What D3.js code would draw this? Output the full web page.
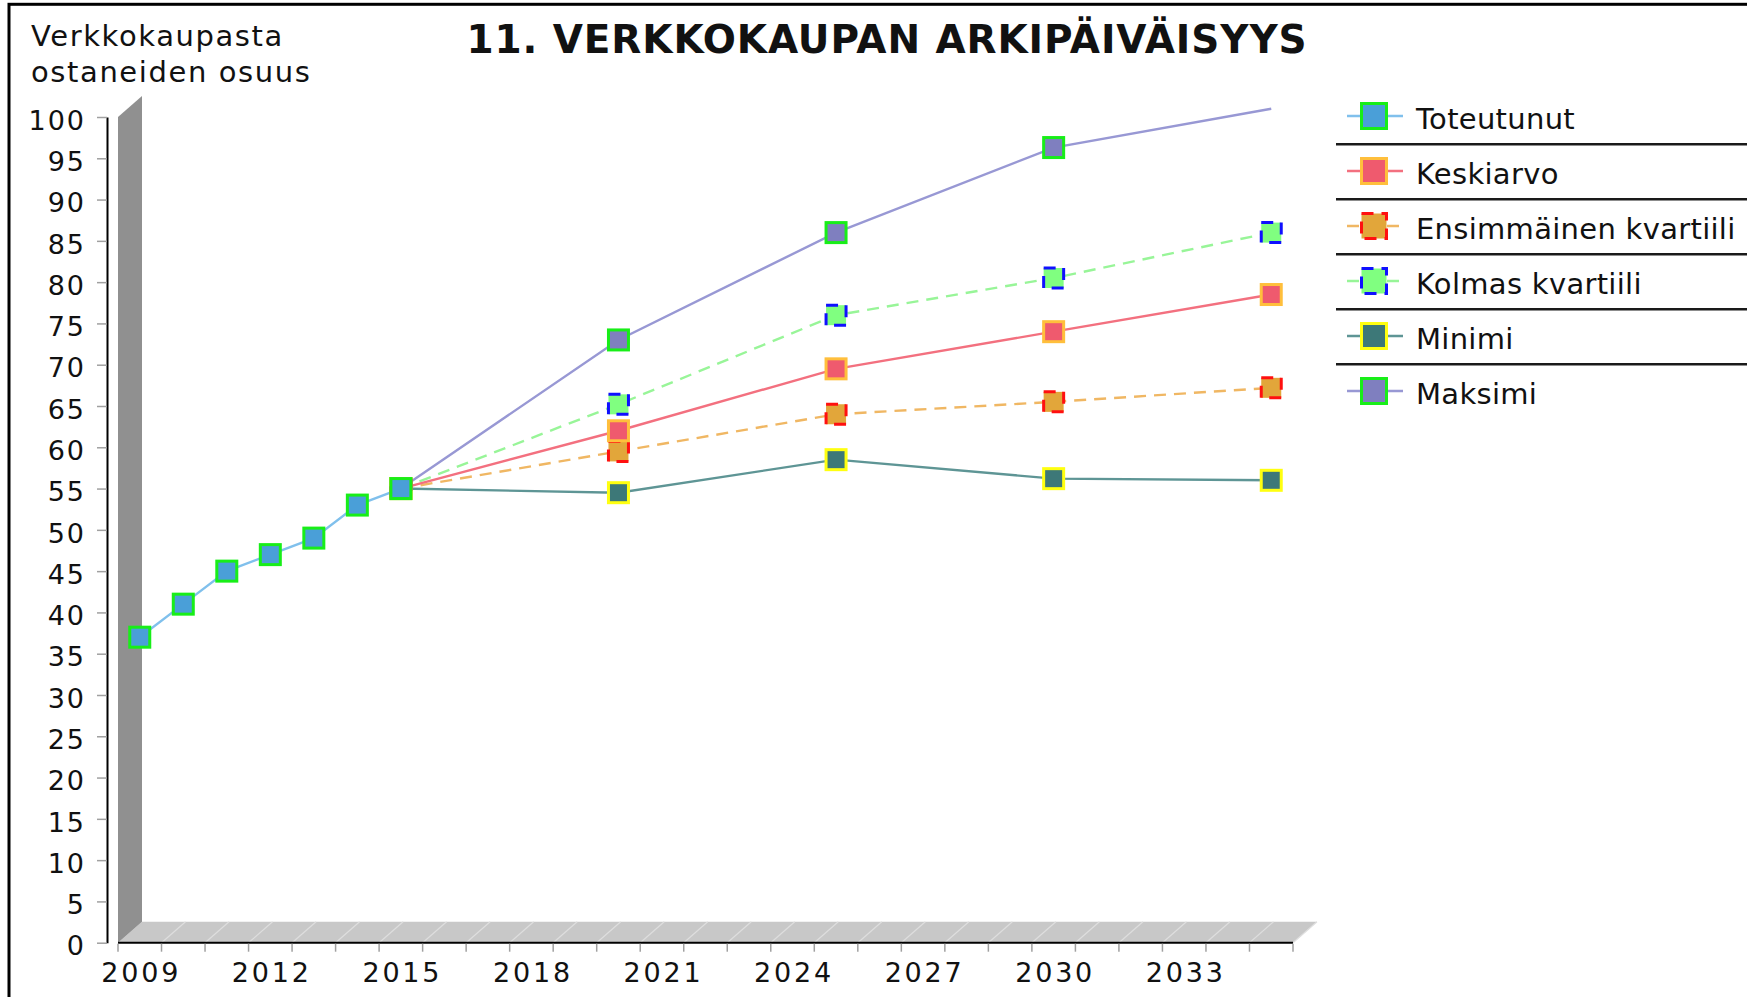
<!DOCTYPE html>
<html>
<head>
<meta charset="utf-8">
<script src="https://cdn.jsdelivr.net/npm/d3@7"></script>
<style>
  html, body { margin: 0; padding: 0; background: #fff; }
  svg { display: block; font-family: "DejaVu Sans", sans-serif; }
</style>
</head>
<body>
<div id="chart"></div>
<script>
// categories on the x axis (one per year)
const firstYear = 2009;
const lastYear = 2035;
const labelYears = [2009, 2012, 2015, 2018, 2021, 2024, 2027, 2030, 2033];
const yTicks = [0, 5, 10, 15, 20, 25, 30, 35, 40, 45, 50, 55, 60, 65, 70, 75, 80, 85, 90, 95, 100];

// realised values
const actualYears = [2009, 2010, 2011, 2012, 2013, 2014, 2015];
const actualValues = [37, 41, 45, 47, 49, 53, 55];

// forecasts
const forecastYears = [2015, 2020, 2025, 2030, 2035];
const meanValues = [55, 62, 69.5, 74, 78.5];
const q1Values = [55, 59.5, 64, 65.5, 67.2];
const q3Values = [55, 65.2, 76, 80.5, 86];
const minValues = [55, 54.5, 58.5, 56.2, 56];
const maxValues = [55, 73, 86, 96.3, 101];

const seriesNames = ["Toteutunut", "Keskiarvo", "Ensimmäinen kvartiili", "Kolmas kvartiili", "Minimi", "Maksimi"];

const width = 1747, height = 997;
const depthX = 24, depthY = 21;

const series = [
  { name: seriesNames[0], years: actualYears, values: actualValues, line: "#80c0ec", fill: "#4a9fd8", edge: "#18ee18", dash: null },
  { name: seriesNames[1], years: forecastYears, values: meanValues, line: "#f3707f", fill: "#ef5a6e", edge: "#ffbf3c", dash: null },
  { name: seriesNames[2], years: forecastYears, values: q1Values, line: "#f0b763", fill: "#e2a63a", edge: "#ff1010", dash: "12,8" },
  { name: seriesNames[3], years: forecastYears, values: q3Values, line: "#98f598", fill: "#80ff80", edge: "#1010ff", dash: "12,8" },
  { name: seriesNames[4], years: forecastYears, values: minValues, line: "#5e9595", fill: "#3d7878", edge: "#ffff10", dash: null },
  { name: seriesNames[5], years: forecastYears, values: maxValues, line: "#9898d4", fill: "#7f7fbf", edge: "#18ee18", dash: null }
];

const svg = d3.select("#chart").append("svg")
  .attr("width", width)
  .attr("height", height);

svg.append("rect").attr("width", width).attr("height", height).attr("fill", "#fff");

// outer frame (runs off the right and bottom edges)
svg.append("rect")
  .attr("x", 9).attr("y", 4.3)
  .attr("width", width + 20).attr("height", height + 20)
  .attr("fill", "none").attr("stroke", "#000").attr("stroke-width", 3);

const years = d3.range(firstYear, lastYear + 1);
const x = d3.scaleBand().domain(years).range([118, 1293]).padding(0);
const y = d3.scaleLinear().domain([0, 100]).range([942.7, 117]);
const cx = d => x(d) + x.bandwidth() / 2;

const [x0, x1] = x.range();
const yBase = y(0), yTop = y(100);

// 3D floor
svg.append("polygon")
  .attr("points", [[x0, yBase], [x1, yBase], [x1 + depthX, yBase - depthY], [x0 + depthX, yBase - depthY]].join(" "))
  .attr("fill", "#c8c8c8");

// floor gridlines at category boundaries
svg.append("g").selectAll("line")
  .data(years.slice(1).concat([null]))
  .join("line")
  .attr("x1", d => d === null ? x1 : x(d))
  .attr("x2", d => (d === null ? x1 : x(d)) + depthX)
  .attr("y1", yBase).attr("y2", yBase - depthY)
  .attr("stroke", "#dedede").attr("stroke-width", 1.2);

// 3D left wall
svg.append("polygon")
  .attr("points", [[x0, yBase], [x0, yTop], [x0 + depthX, yTop - depthY], [x0 + depthX, yBase - depthY]].join(" "))
  .attr("fill", "#909090");

// y axis
const yAxis = svg.append("g")
  .attr("transform", "translate(107,0)")
  .call(d3.axisLeft(y).tickValues(yTicks).tickSize(10).tickSizeOuter(0).tickPadding(11));
yAxis.select(".domain").attr("stroke", "#000").attr("stroke-width", 2);
yAxis.selectAll(".tick line").attr("stroke", "#a0a0a0").attr("stroke-width", 1.5);
yAxis.selectAll(".tick text")
  .attr("font-family", "DejaVu Sans")
  .attr("font-size", 27)
  .attr("letter-spacing", 2)
  .attr("dy", "0.45em")
  .attr("fill", "#111");

// x axis: front edge, boundary ticks, labels at category centres
svg.append("line")
  .attr("x1", x0).attr("x2", x1)
  .attr("y1", yBase).attr("y2", yBase)
  .attr("stroke", "#000").attr("stroke-width", 2);

svg.append("g").selectAll("line")
  .data(years.concat([null]))
  .join("line")
  .attr("x1", d => d === null ? x1 : x(d))
  .attr("x2", d => d === null ? x1 : x(d))
  .attr("y1", yBase + 1).attr("y2", yBase + 9)
  .attr("stroke", "#a0a0a0").attr("stroke-width", 1.5);

svg.append("g").selectAll("text")
  .data(labelYears)
  .join("text")
  .attr("x", d => cx(d) + 1.5)
  .attr("y", 982)
  .attr("text-anchor", "middle")
  .attr("font-size", 27)
  .attr("letter-spacing", 2.8)
  .attr("fill", "#111")
  .text(d => d);

// lines, drawn last series first so Toteutunut sits on top
const line = d3.line().x(d => cx(d[0])).y(d => y(d[1]));
const drawOrder = series.slice().reverse();

svg.append("g").selectAll("path")
  .data(drawOrder)
  .join("path")
  .attr("d", s => line(d3.zip(s.years, s.values)))
  .attr("fill", "none")
  .attr("stroke", s => s.line)
  .attr("stroke-width", 2.4)
  .attr("stroke-dasharray", s => s.dash);

const markerSize = 20;
drawOrder.forEach(s => {
  svg.append("g").selectAll("rect")
    .data(d3.zip(s.years, s.values).filter(d => d[1] <= 100))
    .join("rect")
    .attr("x", d => cx(d[0]) - markerSize / 2)
    .attr("y", d => y(d[1]) - markerSize / 2)
    .attr("width", markerSize).attr("height", markerSize)
    .attr("fill", s.fill)
    .attr("stroke", s.edge)
    .attr("stroke-width", 3)
    .attr("stroke-dasharray", s.dash);
});

// title
svg.append("text")
  .attr("x", 887).attr("y", 53)
  .attr("text-anchor", "middle")
  .attr("font-weight", "bold")
  .attr("font-size", 39)
  .attr("letter-spacing", 0.9)
  .attr("fill", "#111")
  .text("11. VERKKOKAUPAN ARKIPÄIVÄISYYS");

// y axis title
const yTitle = svg.append("text")
  .attr("font-size", 29)
  .attr("letter-spacing", 1.6)
  .attr("fill", "#111");
yTitle.append("tspan").attr("x", 31).attr("y", 45.5).text("Verkkokaupasta");
yTitle.append("tspan").attr("x", 31).attr("y", 82).text("ostaneiden osuus");

// legend
const legend = svg.append("g").attr("transform", "translate(1336,116)");
const rowH = 55;
const item = legend.selectAll("g")
  .data(series)
  .join("g")
  .attr("transform", (d, i) => `translate(0,${i * rowH})`);

item.append("line")
  .attr("x1", 11).attr("x2", 67)
  .attr("stroke", d => d.line)
  .attr("stroke-width", 2.4)
  .attr("stroke-dasharray", d => d.dash);

item.append("rect")
  .attr("x", 38 - 12.5).attr("y", -12.5)
  .attr("width", 25).attr("height", 25)
  .attr("fill", d => d.fill)
  .attr("stroke", d => d.edge)
  .attr("stroke-width", 3)
  .attr("stroke-dasharray", d => d.dash);

item.append("text")
  .attr("x", 80).attr("y", 13)
  .attr("font-size", 29)
  .attr("letter-spacing", 0.3)
  .attr("fill", "#111")
  .text(d => d.name);

item.filter((d, i) => i < series.length - 1)
  .append("line")
  .attr("x1", 0).attr("x2", 420)
  .attr("y1", 28.3).attr("y2", 28.3)
  .attr("stroke", "#1a1a1a")
  .attr("stroke-width", 2.6);
</script>
</body>
</html>
